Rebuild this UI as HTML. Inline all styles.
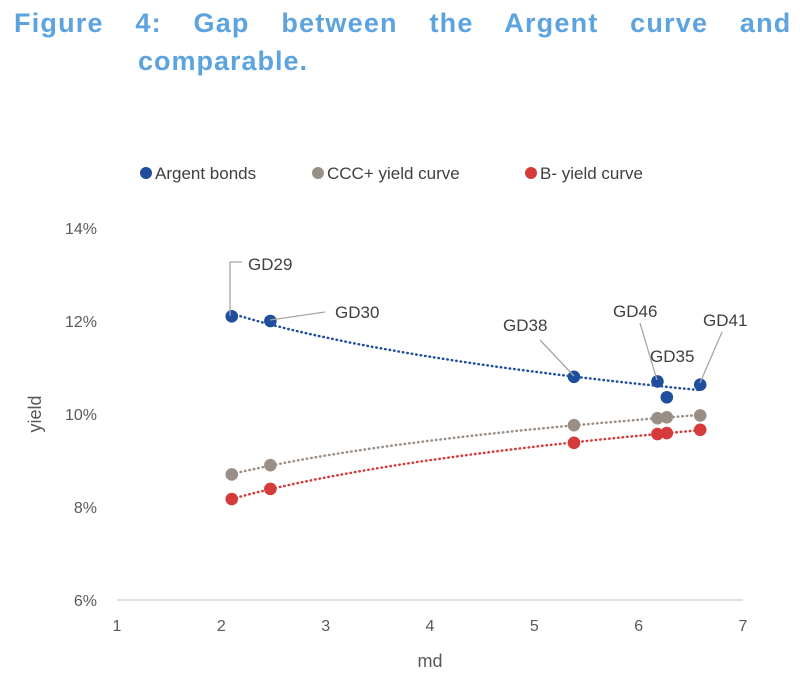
<!DOCTYPE html>
<html><head><meta charset="utf-8"><style>
body{margin:0;width:800px;height:693px;background:#fff;overflow:hidden;font-family:"Liberation Sans",sans-serif}
.t{position:absolute;left:14px;font-weight:bold;font-size:27px;color:#5ca3e0;white-space:nowrap}
</style></head><body>
<div class="t" style="top:8px;word-spacing:23px;letter-spacing:1.2px">Figure 4: Gap between the Argent curve and</div>
<div class="t" style="top:46px;left:138px;letter-spacing:1px">comparable.</div>
<svg id="c" width="800" height="693" style="position:absolute;left:0;top:0" font-family="Liberation Sans, sans-serif"></svg>
<script>
const md=[2.1,2.47,5.38,6.18,6.27,6.59];
const argent=[12.1,12.0,10.8,10.7,10.36,10.63];
const ccc=[8.7,8.9,9.76,9.91,9.93,9.97];
const bminus=[8.17,8.39,9.38,9.57,9.59,9.66];
const bondNames=['GD29','GD30','GD38','GD46','GD35','GD41'];
const xTicks=[1,2,3,4,5,6,7];
const yTicks=[6,8,10,12,14];
const svg=document.getElementById('c');const NS='http://www.w3.org/2000/svg';
const X=v=>117+(v-1)*104.33, Y=v=>600-(v-6)*46.5;
function mk(t,a,p){const e=document.createElementNS(NS,t);for(const k in a)e.setAttribute(k,a[k]);(p||svg).appendChild(e);return e;}
mk('line',{x1:117,y1:600,x2:743,y2:600,stroke:'#bfbfbf'});
xTicks.forEach(v=>{const e=mk('text',{x:X(v),y:631,'text-anchor':'middle','font-size':16,fill:'#595959'});e.textContent=v;});
yTicks.forEach(v=>{const e=mk('text',{x:97,y:Y(v)+6,'text-anchor':'end','font-size':16,fill:'#595959'});e.textContent=v+'%';});
let e=mk('text',{x:430,y:667,'text-anchor':'middle','font-size':18,fill:'#595959'});e.textContent='md';
e=mk('text',{x:41,y:414,'text-anchor':'middle','font-size':18,fill:'#595959',transform:'rotate(-90 41 414)'});e.textContent='yield';
function fit(ys){const n=md.length;let sx=0,sy=0,sxx=0,sxy=0;md.forEach((x,i)=>{const l=Math.log(x);sx+=l;sy+=ys[i];sxx+=l*l;sxy+=l*ys[i];});const b=(n*sxy-sx*sy)/(n*sxx-sx*sx),a=(sy-b*sx)/n;return x=>a+b*Math.log(x);}
const series=[[argent,'#1f4e9c','argent'],[ccc,'#9a8f86','ccc'],[bminus,'#d63b3b','b-minus']];
series.forEach(([ys,col,nm])=>{const f=fit(ys);const x0=Math.min(...md),x1=Math.max(...md);let d='';for(let i=0;i<=40;i++){const x=x0+(x1-x0)*i/40;d+=(i?'L':'M')+X(x).toFixed(1)+' '+Y(f(x)).toFixed(1);}
const p=mk('path',{d,fill:'none',stroke:col,'stroke-width':2.5,'stroke-dasharray':'0.5 4','stroke-linecap':'round'});
ys.forEach((v,i)=>{const c=mk('circle',{cx:X(md[i]),cy:Y(v),r:6.3,fill:col});});});
const lab=[[248,270,[[230,316],[230,262],[242,262]]],[335,318,[[270,320],[325,312]]],[503,331,[[540,340],[574,376]]],[613,317,[[640,323],[657,380]]],[650,362,null],[703,326,[[722,332],[700,383]]]];
lab.forEach((l,i)=>{if(l[2]){const pl=mk('polyline',{points:l[2].map(p=>p.join(',')).join(' '),fill:'none',stroke:'#a6a6a6','stroke-width':1.3});}
const t=mk('text',{x:l[0],y:l[1],'font-size':17,fill:'#404040'});t.textContent=bondNames[i];});
const leg=[['Argent bonds','#1f4e9c',146],['CCC+ yield curve','#9a8f86',318],['B- yield curve','#d63b3b',531]];
leg.forEach(([n,c,x])=>{const g=mk('g',{});mk('circle',{cx:x,cy:173,r:6,fill:c},g);const t=mk('text',{x:x+9,y:179,'font-size':17,fill:'#404040'},g);t.textContent=n;});
</script>
</body></html>
